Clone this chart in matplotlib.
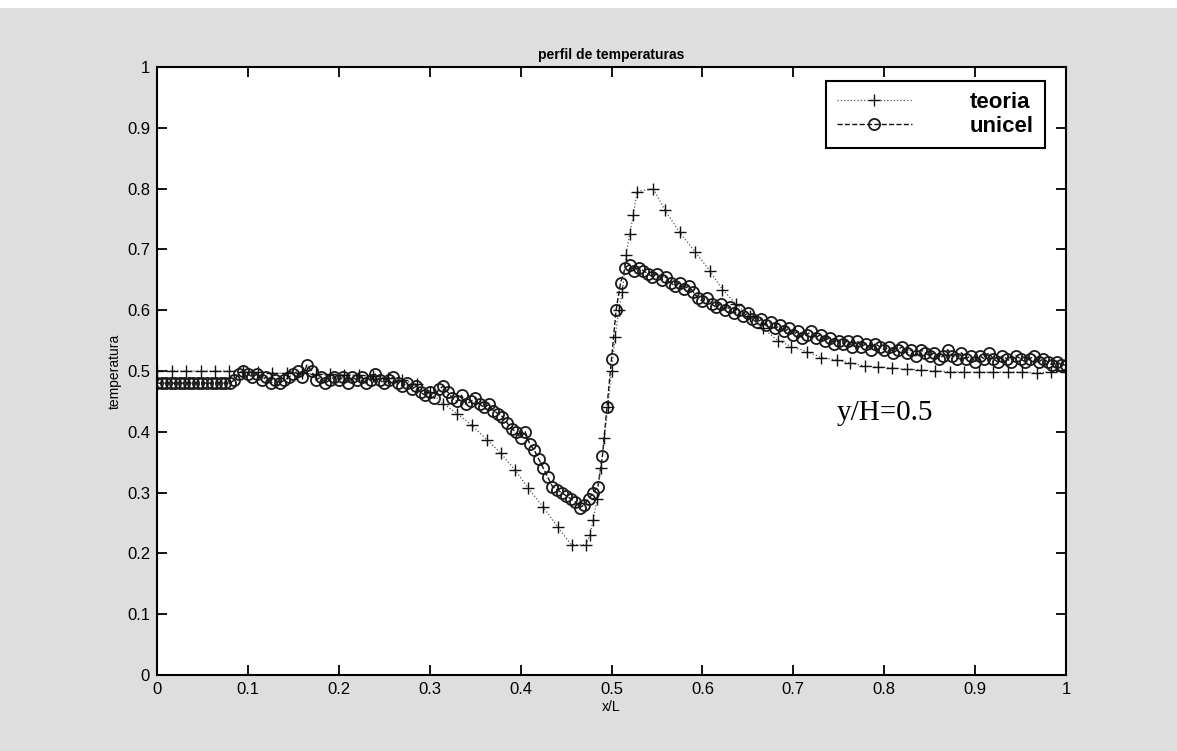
import numpy as np
from matplotlib import pyplot as plt
from matplotlib.patches import Rectangle

# teoria: analytical profile (non-uniform x, denser near x/L = 0.5)
teoria_x = [0.0, 0.016, 0.032, 0.048, 0.064, 0.079, 0.095, 0.111, 0.127, 0.143,
            0.159, 0.175, 0.19, 0.206, 0.222, 0.238, 0.254, 0.27, 0.286, 0.30,
            0.315, 0.33, 0.346, 0.363, 0.378, 0.394, 0.408, 0.425, 0.441, 0.456,
            0.472, 0.476, 0.480, 0.484, 0.488, 0.492, 0.496, 0.500, 0.504, 0.508,
            0.512, 0.516, 0.520, 0.524, 0.528, 0.546, 0.559, 0.575, 0.592, 0.608,
            0.622, 0.637, 0.652, 0.667, 0.683, 0.698, 0.715, 0.731, 0.748, 0.762,
            0.779, 0.793, 0.809, 0.825, 0.84, 0.856, 0.872, 0.888, 0.904, 0.92,
            0.936, 0.952, 0.968, 0.984, 1.0]
teoria_y = [0.50, 0.50, 0.50, 0.50, 0.50, 0.50, 0.499, 0.498, 0.497, 0.496,
            0.496, 0.495, 0.495, 0.494, 0.493, 0.491, 0.489, 0.485, 0.478, 0.466,
            0.446, 0.43, 0.411, 0.387, 0.365, 0.337, 0.308, 0.276, 0.243, 0.214,
            0.214, 0.23, 0.255, 0.29, 0.34, 0.39, 0.44, 0.50, 0.556, 0.60,
            0.63, 0.69, 0.725, 0.756, 0.795, 0.80, 0.764, 0.728, 0.696, 0.665,
            0.634, 0.61, 0.59, 0.57, 0.55, 0.54, 0.532, 0.522, 0.518, 0.513,
            0.508, 0.507, 0.505, 0.503, 0.502, 0.50, 0.499, 0.498, 0.498, 0.498,
            0.498, 0.498, 0.497, 0.498, 0.498]

# unicel: simulation, one value every 0.005 in x/L
unicel_x = np.linspace(0, 1, 201)
unicel_y = [
    0.48, 0.48, 0.48, 0.48, 0.48, 0.48, 0.48, 0.48, 0.48, 0.48,
    0.48, 0.48, 0.48, 0.48, 0.48, 0.48, 0.48, 0.485, 0.495, 0.50,
    0.495, 0.49, 0.495, 0.485, 0.49, 0.48, 0.485, 0.48, 0.485, 0.49,
    0.495, 0.50, 0.49, 0.51, 0.50, 0.485, 0.49, 0.48, 0.485, 0.49,
    0.485, 0.49, 0.48, 0.49, 0.485, 0.49, 0.48, 0.485, 0.495, 0.485,
    0.48, 0.485, 0.49, 0.48, 0.475, 0.48, 0.47, 0.475, 0.465, 0.46,
    0.465, 0.455, 0.47, 0.475, 0.465, 0.455, 0.45, 0.46, 0.445, 0.45,
    0.455, 0.445, 0.44, 0.445, 0.435, 0.43, 0.425, 0.415, 0.405, 0.40,
    0.39, 0.40, 0.38, 0.37, 0.355, 0.34, 0.325, 0.31, 0.305, 0.30,
    0.295, 0.29, 0.285, 0.275, 0.28, 0.29, 0.30, 0.31, 0.36, 0.44,
    0.52, 0.60, 0.645, 0.67, 0.675, 0.665, 0.67, 0.665, 0.66, 0.655,
    0.66, 0.65, 0.655, 0.645, 0.64, 0.645, 0.635, 0.64, 0.63, 0.62,
    0.615, 0.62, 0.61, 0.605, 0.61, 0.60, 0.605, 0.595, 0.60, 0.59,
    0.595, 0.585, 0.58, 0.585, 0.575, 0.58, 0.57, 0.575, 0.565, 0.57,
    0.56, 0.565, 0.555, 0.56, 0.565, 0.555, 0.56, 0.55, 0.555, 0.545,
    0.55, 0.545, 0.55, 0.54, 0.55, 0.54, 0.545, 0.535, 0.545, 0.54,
    0.535, 0.54, 0.53, 0.535, 0.54, 0.53, 0.535, 0.525, 0.535, 0.53,
    0.525, 0.53, 0.52, 0.525, 0.535, 0.525, 0.52, 0.53, 0.52, 0.525,
    0.515, 0.525, 0.52, 0.53, 0.52, 0.515, 0.525, 0.52, 0.515, 0.525,
    0.52, 0.515, 0.52, 0.525, 0.515, 0.52, 0.515, 0.51, 0.515, 0.51,
    0.51,
]

xticks = np.arange(0, 1.01, 0.1)
yticks = np.arange(0, 1.01, 0.1)
tick_labels = ["0", "0.1", "0.2", "0.3", "0.4", "0.5", "0.6", "0.7", "0.8", "0.9", "1"]

plt.rcParams["font.family"] = ["Liberation Sans", "DejaVu Sans"]

fig = plt.figure(figsize=(11.77, 7.51), dpi=100, facecolor="white")
# scanned grey stipple background
fig.patches.append(Rectangle((0, 0), 1, 0.99, transform=fig.transFigure,
                             facecolor="#dedede", edgecolor="none", zorder=-10))
ax = fig.add_axes([0.1334, 0.1012, 0.7723, 0.8096])
ax.set_facecolor("white")

(l_uni,) = ax.plot(unicel_x, unicel_y, linestyle="--", color="#111111", lw=1.0,
                   marker="o", markersize=8, markerfacecolor="none",
                   markeredgecolor="#1a1a1a", markeredgewidth=1.3, label="unicel")
(l_teo,) = ax.plot(teoria_x, teoria_y, linestyle=":", color="#555555", lw=0.9,
                   marker="+", markersize=9, markeredgecolor="#111111",
                   markeredgewidth=1.0, label="teoria")

ax.set_xlim(0, 1)
ax.set_ylim(0, 1)
ax.set_xticks(xticks)
ax.set_yticks(yticks)
ax.set_xticklabels(tick_labels)
ax.set_yticklabels(tick_labels)
ax.tick_params(direction="in", length=7, width=1.3, top=True, right=True,
               labelsize=12, pad=5)
for s in ax.spines.values():
    s.set_linewidth(1.5)

ax.set_title("perfil de temperaturas", fontsize=10, fontweight="bold", pad=6)
ax.set_xlabel("x/L", fontsize=10, labelpad=2)
ax.set_ylabel("temperatura", fontsize=10, labelpad=4)

ax.text(0.748, 0.431, "y/H=0.5", fontsize=21, family="Liberation Serif",
        va="center", ha="left")

leg = ax.legend(handles=[l_teo, l_uni], loc="upper right",
                bbox_to_anchor=(0.977, 0.977), borderaxespad=0,
                prop={"size": 16, "weight": "bold"},
                handlelength=3.4, handletextpad=2.6, labelspacing=0.12,
                borderpad=0.5, numpoints=1, fancybox=False, framealpha=1)
leg.get_frame().set_edgecolor("black")
leg.get_frame().set_linewidth(1.5)

fig.savefig("out.png", dpi=100, facecolor=fig.get_facecolor())
